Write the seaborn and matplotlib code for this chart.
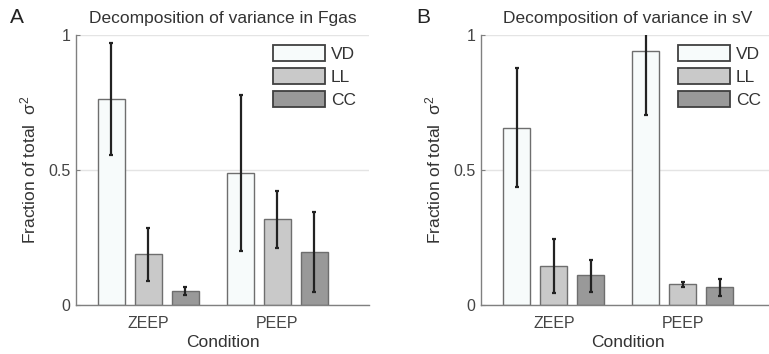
import numpy as np
import pandas as pd
import seaborn as sns
import matplotlib.pyplot as plt

conditions = ['ZEEP', 'PEEP']
components = ['VD', 'LL', 'CC']

# Fgas: value, lower and upper end of the error bar, per component [ZEEP, PEEP]
fgas_vd = [0.764, 0.490]
fgas_ll = [0.188, 0.318]
fgas_cc = [0.053, 0.197]
fgas_vd_lo = [0.556, 0.201]
fgas_vd_hi = [0.969, 0.778]
fgas_ll_lo = [0.089, 0.212]
fgas_ll_hi = [0.286, 0.423]
fgas_cc_lo = [0.037, 0.047]
fgas_cc_hi = [0.066, 0.344]

# sV
sv_vd = [0.657, 0.941]
sv_ll = [0.144, 0.077]
sv_cc = [0.110, 0.068]
sv_vd_lo = [0.436, 0.704]
sv_vd_hi = [0.879, 1.18]
sv_ll_lo = [0.044, 0.067]
sv_ll_hi = [0.244, 0.086]
sv_cc_lo = [0.049, 0.034]
sv_cc_hi = [0.168, 0.097]


def make_df(vd, ll, cc, lo, hi):
    rows = []
    for comp, vals, l, h in zip(components, [vd, ll, cc], lo, hi):
        for cond, v, a, b in zip(conditions, vals, l, h):
            rows.append({'Condition': cond, 'Component': comp, 'Value': v, 'lo': a, 'hi': b})
    return pd.DataFrame(rows)


df_fgas = make_df(fgas_vd, fgas_ll, fgas_cc,
                  [fgas_vd_lo, fgas_ll_lo, fgas_cc_lo],
                  [fgas_vd_hi, fgas_ll_hi, fgas_cc_hi])
df_sv = make_df(sv_vd, sv_ll, sv_cc,
                [sv_vd_lo, sv_ll_lo, sv_cc_lo],
                [sv_vd_hi, sv_ll_hi, sv_cc_hi])

sns.set_style('white')
plt.rcParams['font.family'] = ['Liberation Sans', 'DejaVu Sans']
plt.rcParams['mathtext.fontset'] = 'custom'
plt.rcParams['mathtext.rm'] = 'Liberation Sans'
plt.rcParams['mathtext.it'] = 'Liberation Sans'

palette = {'VD': '#f7fbfb', 'LL': '#c9c9c9', 'CC': '#999999'}
txt = '#333333'

fig = plt.figure(figsize=(7.69, 3.54), dpi=100)
ax_a = fig.add_axes([0.0988, 0.1384, 0.381, 0.7627])
ax_b = fig.add_axes([0.6255, 0.1384, 0.381, 0.7627])


def draw(ax, df, title, xlim):
    sns.barplot(data=df, x='Condition', y='Value', hue='Component',
                order=conditions, hue_order=components, palette=palette,
                width=0.86, gap=0.27, errorbar=None, edgecolor='#6e6e6e',
                linewidth=1.0, saturation=1, ax=ax, zorder=2)
    for comp, cont in zip(components, ax.containers):
        sub = df[df['Component'] == comp].set_index('Condition').loc[conditions]
        xs = [p.get_x() + p.get_width() / 2 for p in cont]
        ys = sub['Value'].values
        ax.errorbar(xs, ys, yerr=[ys - sub['lo'].values, sub['hi'].values - ys],
                    fmt='none', ecolor='#222222', elinewidth=1.6, capsize=1.2,
                    capthick=1.6, zorder=3)
    ax.set_ylim(0, 1)
    ax.set_xlim(*xlim)
    ax.set_yticks([0, 0.5, 1])
    ax.set_yticklabels(['0', '0.5', '1'])
    ax.yaxis.grid(True, color='#e4e4e4', linewidth=1.0, zorder=0)
    ax.set_axisbelow(True)
    sns.despine(ax=ax)
    for s in ['left', 'bottom']:
        ax.spines[s].set_color('#808080')
        ax.spines[s].set_linewidth(1.0)
    ax.tick_params(axis='y', direction='in', length=3, color='#808080',
                   labelsize=11.5, labelcolor='#444444', pad=4, left=True)
    ax.tick_params(axis='x', length=0, labelsize=11.5, labelcolor='#444444', pad=8)
    ax.set_xlabel('Condition', fontsize=12.5, color=txt, labelpad=3)
    ax.set_ylabel('Fraction of total  σ$^2$', fontsize=12.5, color=txt, labelpad=7)
    ax.set_title(title, fontsize=12.5, color=txt, pad=9)
    handles, labels = ax.get_legend_handles_labels()
    for h in handles:
        h.set_edgecolor('#404040')
        h.set_linewidth(1.3)
    ax.legend(handles, labels, loc='upper left', bbox_to_anchor=(0.672, 0.962),
              frameon=False, handlelength=3.0, handleheight=0.98,
              labelspacing=0.37, handletextpad=0.35, borderpad=0,
              borderaxespad=0, fontsize=12.5, labelcolor=txt)


draw(ax_a, df_fgas, 'Decomposition of variance in Fgas', (-0.562, 1.709))
draw(ax_b, df_sv, 'Decomposition of variance in sV', (-0.565, 1.706))

fig.text(0.013, 0.95, 'A', fontsize=15, color='#222222', va='center')
fig.text(0.541, 0.95, 'B', fontsize=15, color='#222222', va='center')

fig.savefig('out.png', dpi=100)
